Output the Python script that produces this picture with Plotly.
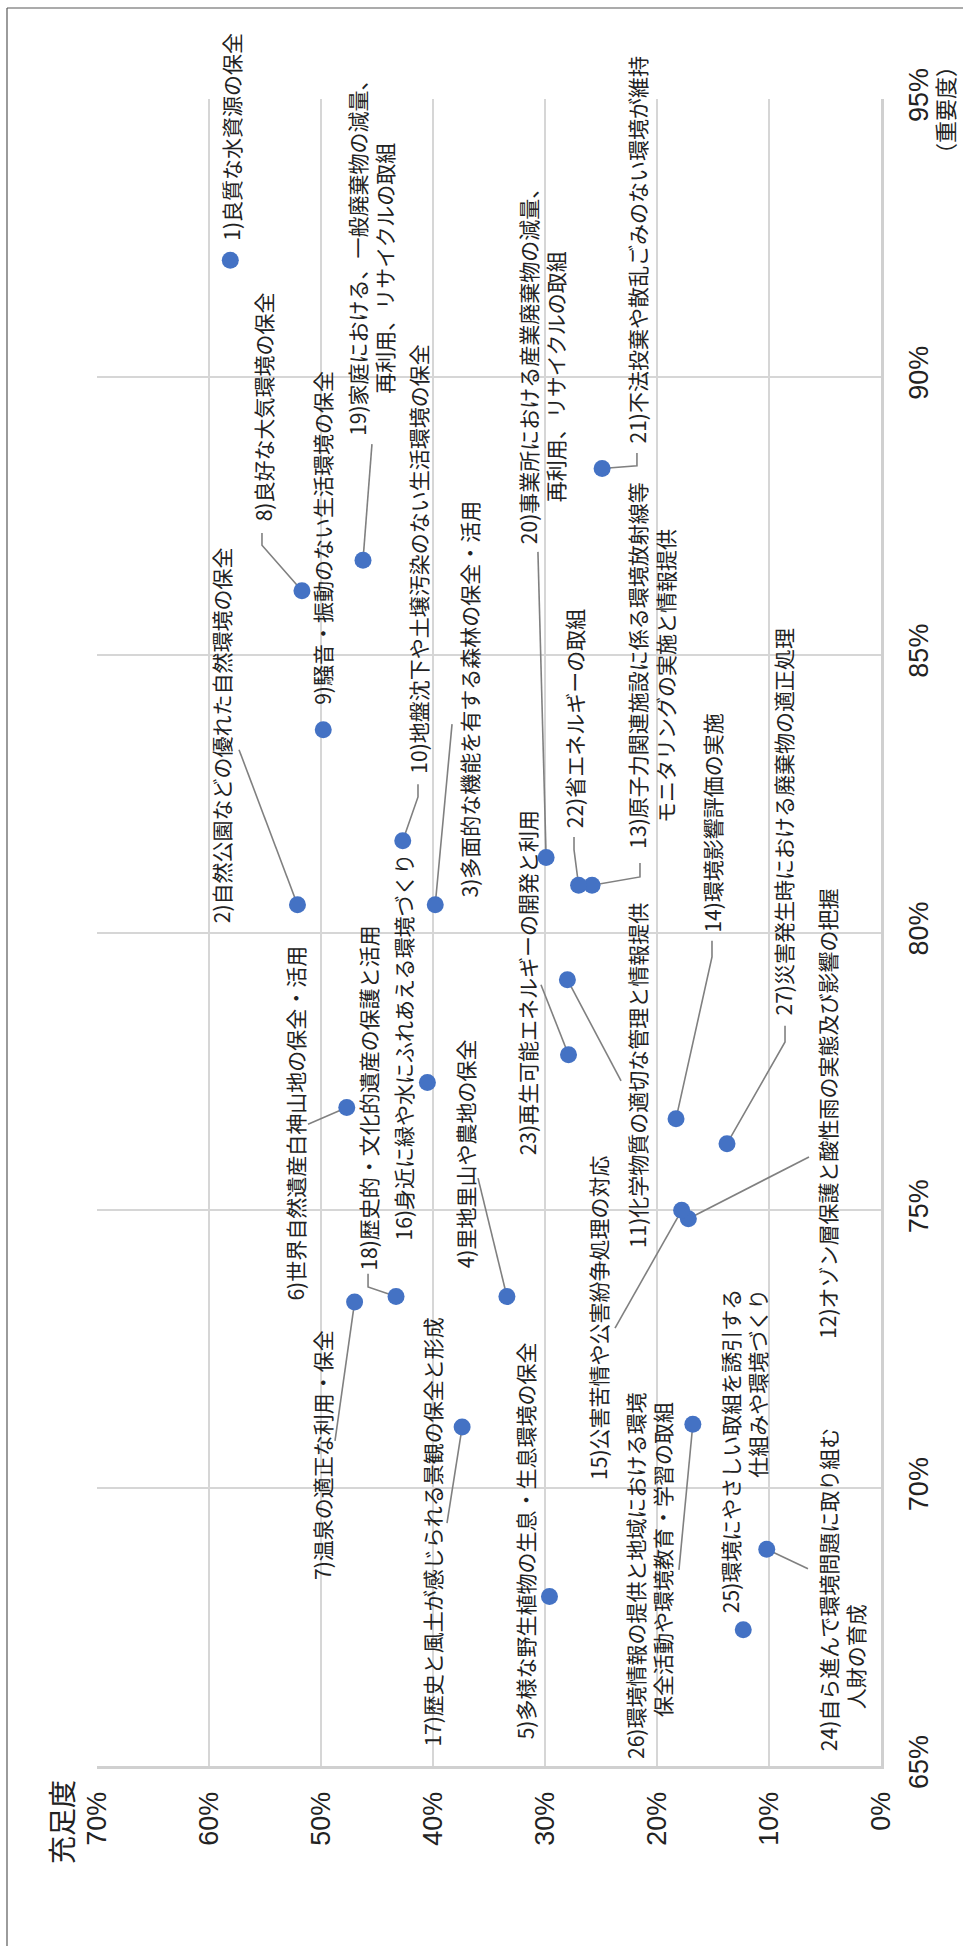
import plotly.graph_objects as go

# ---------------- data ----------------
item_no = list(range(1, 28))
satisfaction = [58.1, 52.1, 39.8, 33.4, 29.6, 47.7, 47.0, 51.7, 49.8, 42.7,
                28.0, 17.2, 25.8, 18.3, 17.8, 40.5, 37.4, 43.3, 46.25, 29.9,
                24.9, 27.0, 27.9, 10.2, 12.3, 16.8, 13.75]
importance = [92.1, 80.5, 80.5, 73.45, 68.05, 76.85, 73.35, 86.15, 83.65, 81.65,
              79.15, 74.85, 80.85, 76.65, 75.0, 77.3, 71.1, 73.45, 86.7, 81.35,
              88.35, 80.85, 77.8, 68.9, 67.45, 71.15, 76.2]
item_labels = [
    ["1)良質な水資源の保全"],
    ["2)自然公園などの優れた自然環境の保全"],
    ["3)多面的な機能を有する森林の保全・活用"],
    ["4)里地里山や農地の保全"],
    ["5)多様な野生植物の生息・生息環境の保全"],
    ["6)世界自然遺産白神山地の保全・活用"],
    ["7)温泉の適正な利用・保全"],
    ["8)良好な大気環境の保全"],
    ["9)騒音・振動のない生活環境の保全"],
    ["10)地盤沈下や土壌汚染のない生活環境の保全"],
    ["11)化学物質の適切な管理と情報提供"],
    ["12)オゾン層保護と酸性雨の実態及び影響の把握"],
    ["13)原子力関連施設に係る環境放射線等", "モニタリングの実施と情報提供"],
    ["14)環境影響評価の実施"],
    ["15)公害苦情や公害紛争処理の対応"],
    ["16)身近に緑や水にふれあえる環境づくり"],
    ["17)歴史と風土が感じられる景観の保全と形成"],
    ["18)歴史的・文化的遺産の保護と活用"],
    ["19)家庭における、一般廃棄物の減量、", "再利用、リサイクルの取組"],
    ["20)事業所における産業廃棄物の減量、", "再利用、リサイクルの取組"],
    ["21)不法投棄や散乱ごみのない環境が維持"],
    ["22)省エネルギーの取組"],
    ["23)再生可能エネルギーの開発と利用"],
    ["24)自ら進んで環境問題に取り組む", "人財の育成"],
    ["25)環境にやさしい取組を誘引する", "仕組みや環境づくり"],
    ["26)環境情報の提供と地域における環境", "保全活動や環境教育・学習の取組"],
    ["27)災害発生時における廃棄物の適正処理"],
]
x_ticks = [0, 10, 20, 30, 40, 50, 60, 70]
x_ticktext = ["0%", "10%", "20%", "30%", "40%", "50%", "60%", "70%"]
y_ticks = [65, 70, 75, 80, 85, 90, 95]
y_ticktext = ["65%", "70%", "75%", "80%", "85%", "90%", "95%"]
x_title = "充足度"
y_title = "（重要度）"

# ---------------- label layout (positions in axis units) ----------------
label_pos = {
    1: (58.04, 92.43), 2: (58.93, 80.15), 3: (36.79, 80.62), 4: (37.14, 73.93),
    5: (31.79, 65.47), 6: (52.32, 73.35), 7: (49.91, 68.33), 8: (55.18, 87.39),
    9: (49.91, 84.08), 10: (41.34, 82.85), 11: (21.79, 74.31), 12: (4.82, 72.67),
    13: (20.54, 81.49), 14: (15.09, 79.99), 15: (25.27, 70.13), 16: (42.68, 74.45),
    17: (40.09, 65.34), 18: (45.89, 73.89), 19: (45.54, 88.92), 20: (30.36, 86.97),
    21: (21.79, 88.79), 22: (27.41, 81.85), 23: (31.61, 75.98), 24: (3.57, 65.24),
    25: (12.32, 73.60), 26: (20.71, 65.11), 27: (8.75, 78.48),
}
label_top_anchor = {25}
line2_indent = {13: "\u3000\u00a0", 19: "\u3000\u3000", 20: "\u3000\u3000",
                24: "\u3000\u3000", 26: "\u3000\u3000"}
label_align = {25: "right"}
leader_start = {
    2: [(57.32, 83.29)], 3: [(38.30, 83.75)], 4: [(35.98, 75.58)],
    6: [(51.16, 76.55)], 7: [(48.75, 70.85)],
    8: [(55.27, 87.19), (55.27, 86.97)], 10: [(41.34, 82.67), (41.34, 82.44)],
    11: [(23.21, 77.33)], 12: [(6.43, 75.96)],
    13: [(21.52, 81.25), (21.52, 81.00)], 14: [(15.09, 79.85), (15.09, 79.56)],
    15: [(23.75, 72.88)], 17: [(38.75, 69.37)],
    18: [(45.80, 73.86), (45.80, 73.62)], 19: [(45.45, 88.79)],
    20: [(30.63, 86.85)], 21: [(21.79, 88.63), (21.79, 88.40)],
    22: [(27.41, 81.72), (27.41, 81.49)], 23: [(30.36, 79.06)],
    24: [(6.52, 68.55)], 26: [(18.04, 68.53)],
    27: [(8.57, 78.32), (8.57, 78.03)],
}

FONT = "Noto Sans CJK JP"
TICKFONT = "Liberation Sans, Arial, Noto Sans CJK JP"
TXT = "#222222"
W, H = 963, 1946
L, R, T, B = 97, 82, 99, 180
PW, PH = W - L - R, H - T - B

fig = go.Figure()

# leader lines
lx, ly = [], []
for i, n in enumerate(item_no):
    if n in leader_start:
        for (a, b) in leader_start[n]:
            lx.append(a)
            ly.append(b)
        lx.append(satisfaction[i])
        ly.append(importance[i])
        lx.append(None)
        ly.append(None)
fig.add_trace(go.Scatter(x=lx, y=ly, mode="lines",
                         line=dict(color="#808080", width=1.6),
                         hoverinfo="skip", showlegend=False))

# markers
fig.add_trace(go.Scatter(
    x=satisfaction, y=importance, mode="markers",
    marker=dict(color="#4472C4", size=17, line=dict(width=0)),
    text=["<br>".join(t) for t in item_labels],
    hoverinfo="text", showlegend=False))

# labels
for i, n in enumerate(item_no):
    lines = list(item_labels[i])
    if len(lines) > 1 and n in line2_indent:
        lines[1] = line2_indent[n] + lines[1]
    sx, iy = label_pos[n]
    fig.add_annotation(
        x=sx, y=iy, xref="x", yref="y", text="<br>".join(lines),
        showarrow=False, textangle=-90,
        xanchor="center", yanchor="top" if n in label_top_anchor else "bottom",
        align=label_align.get(n, "left"), borderpad=0,
        font=dict(family=FONT, size=21, color=TXT))

# axis titles
fig.add_annotation(x=(61 - L) / PW, y=(PH + T - 1822) / PH, xref="paper", yref="paper",
                   text=x_title, showarrow=False, textangle=-90,
                   xanchor="center", yanchor="middle",
                   font=dict(family=FONT, size=28, color=TXT))
fig.add_annotation(x=(944 - L) / PW, y=(PH + T - 110) / PH, xref="paper", yref="paper",
                   text=y_title, showarrow=False, textangle=-90,
                   xanchor="center", yanchor="middle",
                   font=dict(family=FONT, size=22, color=TXT))

# outer frame (top and left edges visible)
fx = (7 - L) / PW
fy = (PH + T - 8) / PH
fig.add_shape(type="line", xref="paper", yref="paper", x0=fx, x1=fx, y0=-0.3, y1=fy,
              line=dict(color="#595959", width=1.2))
fig.add_shape(type="line", xref="paper", yref="paper", x0=fx, x1=1.3, y0=fy, y1=fy,
              line=dict(color="#595959", width=1.2))

fig.update_layout(
    width=W, height=H,
    margin=dict(l=L, r=R, t=T, b=B, pad=0),
    paper_bgcolor="white", plot_bgcolor="white",
    font=dict(family=FONT, color=TXT),
    showlegend=False,
    xaxis=dict(range=[70, 0], tickvals=x_ticks, ticktext=x_ticktext,
               tickangle=-90, tickfont=dict(family=TICKFONT, size=27, color=TXT),
               showgrid=True, gridcolor="#d6d6d6", gridwidth=2,
               zeroline=False, showline=True, linecolor="#d0d0d0", linewidth=3,
               ticks="", ticklabelstandoff=12, fixedrange=True),
    yaxis=dict(range=[65, 95], tickvals=y_ticks, ticktext=y_ticktext,
               side="right", tickangle=-90,
               tickfont=dict(family=TICKFONT, size=27, color=TXT),
               showgrid=True, gridcolor="#d6d6d6", gridwidth=2,
               zeroline=False, showline=True, linecolor="#d0d0d0", linewidth=3,
               ticks="", ticklabelstandoff=12, fixedrange=True),
)

fig.write_html("out.html")
